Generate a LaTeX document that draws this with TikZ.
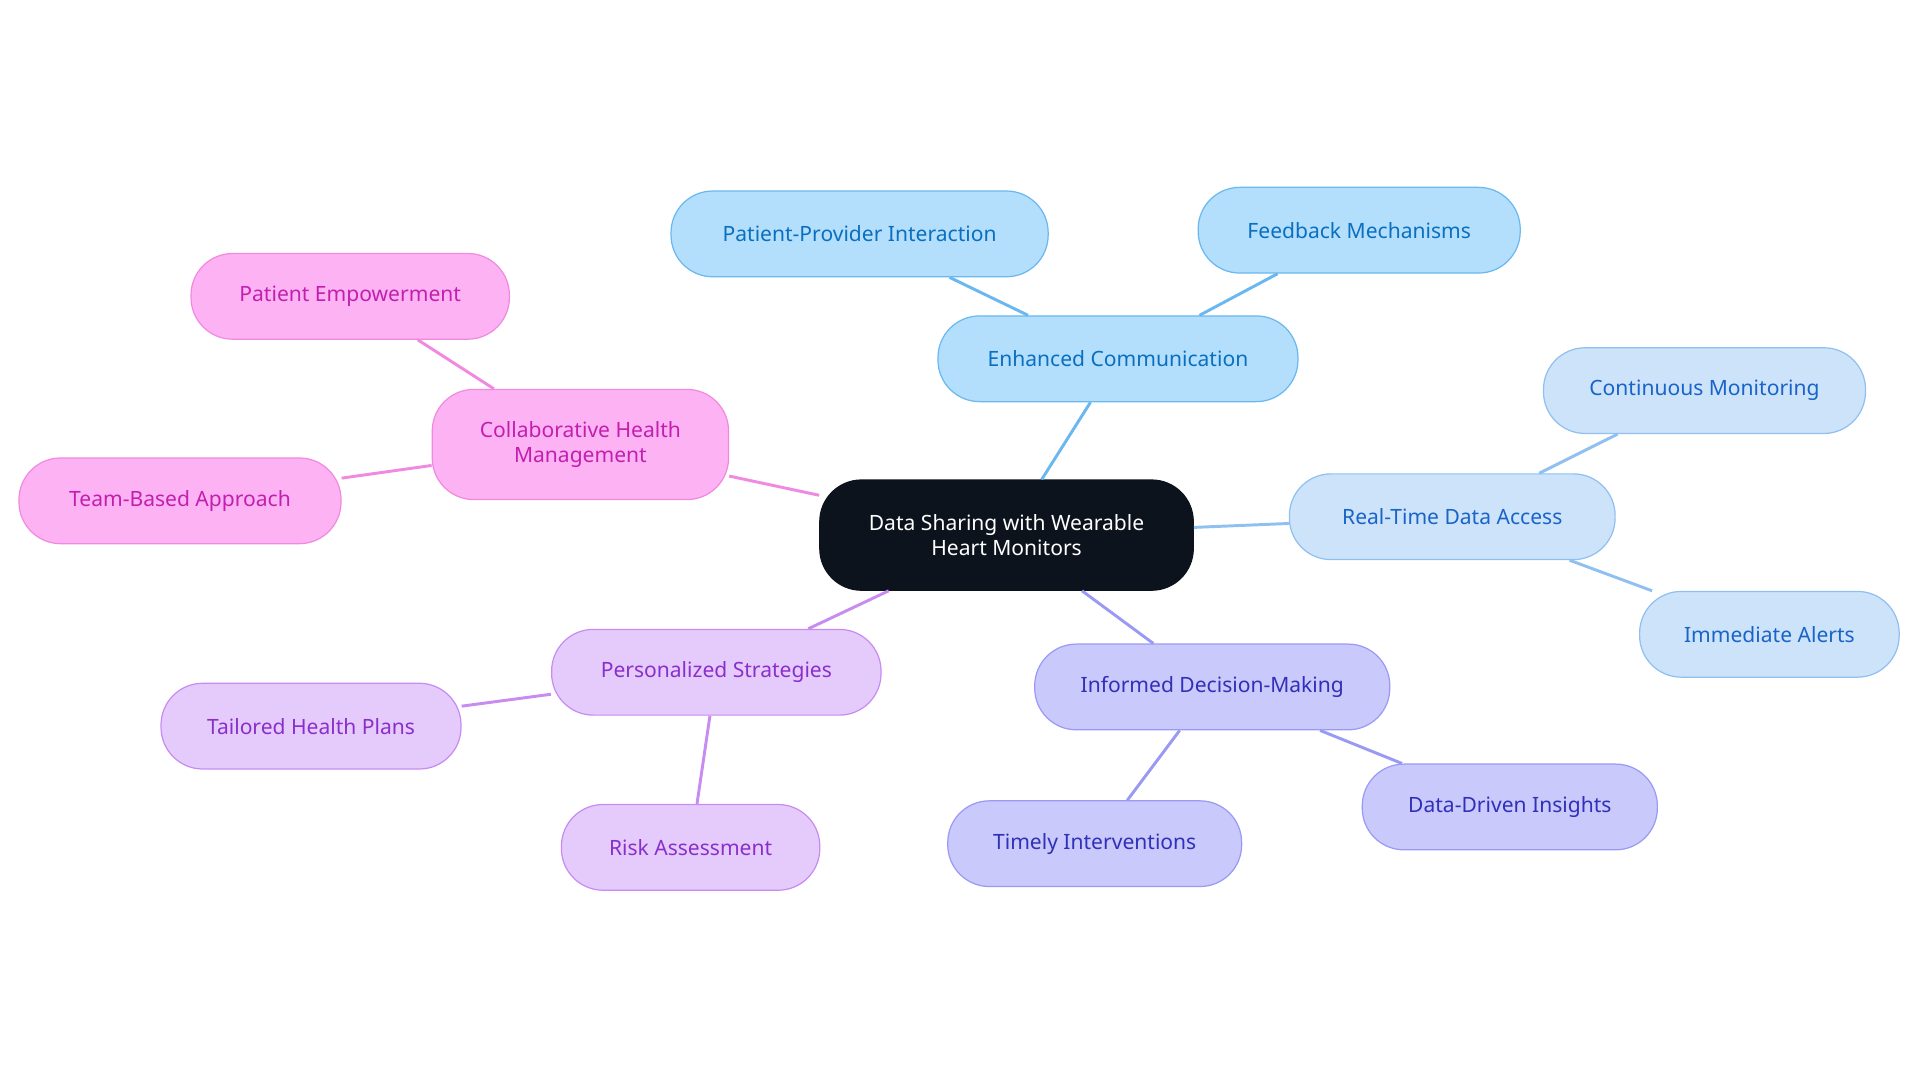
\documentclass[tikz,border=0pt]{standalone}
\usepackage{fontspec}
\setmainfont{Noto Sans}
\definecolor{rootfill}{HTML}{0D131C}
\definecolor{bluefill}{HTML}{B3DFFC}\definecolor{bluedraw}{HTML}{6AB8EF}\definecolor{bluetext}{HTML}{0B6FC0}
\definecolor{skyfill}{HTML}{CCE3FA}\definecolor{skydraw}{HTML}{90C0F0}\definecolor{skytext}{HTML}{1A64C8}
\definecolor{indfill}{HTML}{C9C9FC}\definecolor{inddraw}{HTML}{9A9AF5}\definecolor{indtext}{HTML}{3030B8}
\definecolor{purfill}{HTML}{E5CBFB}\definecolor{purdraw}{HTML}{C88CF0}\definecolor{purtext}{HTML}{8A2FCC}
\definecolor{pinkfill}{HTML}{FDB3F3}\definecolor{pinkdraw}{HTML}{F08AE0}\definecolor{pinktext}{HTML}{C21FB0}
\begin{document}
\begin{tikzpicture}[x=0.5pt,y=-0.5pt,
	box/.style={rounded corners=17pt,minimum height=35pt,align=center,
		font=\fontsize{8.6}{10}\selectfont,line width=0.5pt},
	blue/.style={box,fill=bluefill,draw=bluedraw,text=bluetext},
	sky/.style={box,fill=skyfill,draw=skydraw,text=skytext},
	ind/.style={box,fill=indfill,draw=inddraw,text=indtext},
	pur/.style={box,fill=purfill,draw=purdraw,text=purtext},
	pink/.style={box,fill=pinkfill,draw=pinkdraw,text=pinktext},
	link/.style={line width=1.2pt}]
	\useasboundingbox (0,0) rectangle (1568,884);
	% centre
	\node[box,fill=rootfill,draw=rootfill,text=white,minimum width=152.5pt,minimum height=45pt] (root) at (822,437) {Data Sharing with Wearable\\Heart Monitors};
	% communication
	\node[blue,minimum width=147pt] (comm) at (913,293) {Enhanced Communication};
	\node[blue,minimum width=154pt] (ppi) at (702,191) {Patient-Provider Interaction};
	\node[blue,minimum width=131.5pt] (feed) at (1110,188) {Feedback Mechanisms};
	% real time
	\node[sky,minimum width=133pt] (rt) at (1186,422) {Real-Time Data Access};
	\node[sky,minimum width=131.5pt] (cont) at (1392,319) {Continuous Monitoring};
	\node[sky,minimum width=106pt] (alert) at (1445,518) {Immediate Alerts};
	% decisions
	\node[ind,minimum width=145pt] (dec) at (990,561) {Informed Decision-Making};
	\node[ind,minimum width=120pt] (timely) at (894,689) {Timely Interventions};
	\node[ind,minimum width=120.5pt] (insight) at (1233,659) {Data-Driven Insights};
	% personalized
	\node[pur,minimum width=134.5pt] (pers) at (585,549) {Personalized Strategies};
	\node[pur,minimum width=122.5pt] (plans) at (254,593) {Tailored Health Plans};
	\node[pur,minimum width=105.5pt] (risk) at (564,692) {Risk Assessment};
	% collaborative
	\node[pink,minimum width=121pt,minimum height=45pt] (collab) at (474,363) {Collaborative Health\\Management};
	\node[pink,minimum width=130pt] (emp) at (286,242) {Patient Empowerment};
	\node[pink,minimum width=131.5pt] (team) at (147,409) {Team-Based Approach};

	\draw[link,bluedraw] (root) -- (comm) (comm) -- (ppi) (comm) -- (feed);
	\draw[link,skydraw] (root) -- (rt) (rt) -- (cont) (rt) -- (alert);
	\draw[link,inddraw] (root) -- (dec) (dec) -- (timely) (dec) -- (insight);
	\draw[link,purdraw] (root) -- (pers) (pers) -- (plans) (pers) -- (risk);
	\draw[link,pinkdraw] (root) -- (collab) (collab) -- (emp) (collab) -- (team);
\end{tikzpicture}
\end{document}
